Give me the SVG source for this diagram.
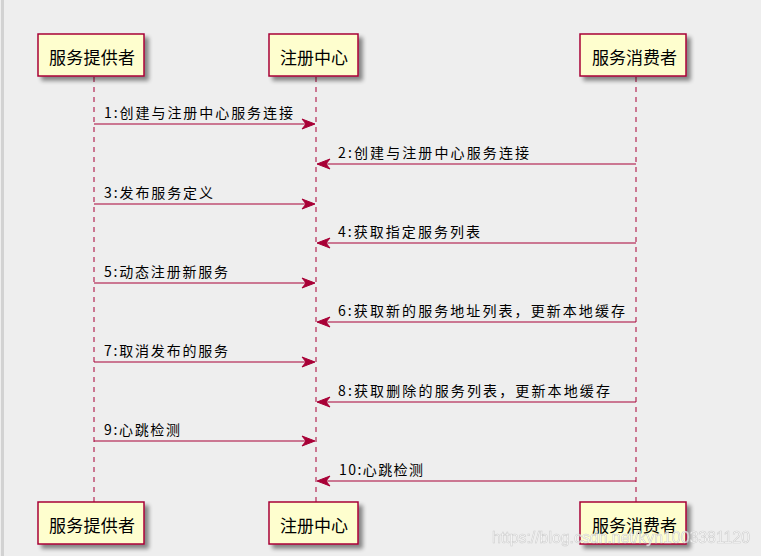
<svg xmlns="http://www.w3.org/2000/svg" width="761" height="556" viewBox="0 0 761 556">
<style>
.bg{fill:#EEEEEE}
.box{fill:#FEFECE;stroke:#A80036;stroke-width:1.5}
.life{stroke:#A80036;stroke-width:1;stroke-dasharray:5,5;fill:none}
.msg{stroke:#A80036;stroke-width:1;fill:none}
.head{fill:#A80036;stroke:#A80036;stroke-width:1}
.pt{font-family:"Noto Sans CJK SC","Noto Sans",sans-serif;font-size:17px;fill:#000}
.ml{font-family:"Noto Sans CJK SC","Noto Sans",sans-serif;font-size:14px;fill:#000}
.wm{font-family:"Liberation Sans",Arial,sans-serif;font-size:16px;fill:#FFFFFF;stroke:#C8C8C8;stroke-width:0.6;opacity:0.85}
</style>
<defs>
<filter id="sh" x="-20%" y="-20%" width="150%" height="160%">
<feGaussianBlur in="SourceAlpha" stdDeviation="2"/>
<feOffset dx="4" dy="4" result="b"/>
<feComponentTransfer><feFuncA type="linear" slope="0.45"/></feComponentTransfer>
<feMerge><feMergeNode/><feMergeNode in="SourceGraphic"/></feMerge>
</filter>
</defs>
<rect class="bg" x="0" y="0" width="761" height="556"/>
<rect x="1" y="0" width="3" height="556" fill="#D2D2D2"/>

<g id="lifelines">
<line class="life" x1="94" y1="77" x2="94" y2="502"/>
<line class="life" x1="316" y1="77" x2="316" y2="502"/>
<line class="life" x1="636" y1="77" x2="636" y2="502"/>
</g>

<g id="p1-top"><rect class="box" filter="url(#sh)" x="38" y="34" width="106" height="42"/><text class="pt" x="49" y="64" textLength="86" lengthAdjust="spacing">服务提供者</text></g>
<g id="p2-top"><rect class="box" filter="url(#sh)" x="269" y="34" width="89" height="42"/><text class="pt" x="280" y="64" textLength="68" lengthAdjust="spacing">注册中心</text></g>
<g id="p3-top"><rect class="box" filter="url(#sh)" x="580" y="34" width="106" height="42"/><text class="pt" x="592" y="64" textLength="85" lengthAdjust="spacing">服务消费者</text></g>

<g id="p1-bottom"><rect class="box" filter="url(#sh)" x="38" y="502" width="106" height="42"/><text class="pt" x="49" y="532" textLength="86" lengthAdjust="spacing">服务提供者</text></g>
<g id="p2-bottom"><rect class="box" filter="url(#sh)" x="269" y="502" width="89" height="42"/><text class="pt" x="280" y="532" textLength="68" lengthAdjust="spacing">注册中心</text></g>
<g id="p3-bottom"><rect class="box" filter="url(#sh)" x="580" y="502" width="106" height="42"/><text class="pt" x="592" y="532" textLength="85" lengthAdjust="spacing">服务消费者</text></g>

<g id="connectors">
<line class="msg" x1="94" y1="124" x2="314" y2="124"/><polygon class="head" points="315,124 302,119 306,124 302,129"/>
<line class="msg" x1="636" y1="164" x2="318" y2="164"/><polygon class="head" points="317,164 330,159 326,164 330,169"/>
<line class="msg" x1="94" y1="204" x2="314" y2="204"/><polygon class="head" points="315,204 302,199 306,204 302,209"/>
<line class="msg" x1="636" y1="243" x2="318" y2="243"/><polygon class="head" points="317,243 330,238 326,243 330,248"/>
<line class="msg" x1="94" y1="283" x2="314" y2="283"/><polygon class="head" points="315,283 302,278 306,283 302,288"/>
<line class="msg" x1="636" y1="322" x2="318" y2="322"/><polygon class="head" points="317,322 330,317 326,322 330,327"/>
<line class="msg" x1="94" y1="362" x2="314" y2="362"/><polygon class="head" points="315,362 302,357 306,362 302,367"/>
<line class="msg" x1="636" y1="402" x2="318" y2="402"/><polygon class="head" points="317,402 330,397 326,402 330,407"/>
<line class="msg" x1="94" y1="441" x2="314" y2="441"/><polygon class="head" points="315,441 302,436 306,441 302,446"/>
<line class="msg" x1="636" y1="481" x2="318" y2="481"/><polygon class="head" points="317,481 330,476 326,481 330,486"/>
</g>

<g id="labels">
<text class="ml" x="104" y="118" textLength="189" lengthAdjust="spacing">1:创建与注册中心服务连接</text>
<text class="ml" x="338" y="158" textLength="191" lengthAdjust="spacing">2:创建与注册中心服务连接</text>
<text class="ml" x="104" y="198" textLength="109" lengthAdjust="spacing">3:发布服务定义</text>
<text class="ml" x="338" y="237" textLength="142" lengthAdjust="spacing">4:获取指定服务列表</text>
<text class="ml" x="104" y="277" textLength="124" lengthAdjust="spacing">5:动态注册新服务</text>
<text class="ml" x="338" y="316" textLength="287" lengthAdjust="spacing">6:获取新的服务地址列表，更新本地缓存</text>
<text class="ml" x="104" y="356" textLength="124" lengthAdjust="spacing">7:取消发布的服务</text>
<text class="ml" x="338" y="396" textLength="272" lengthAdjust="spacing">8:获取删除的服务列表，更新本地缓存</text>
<text class="ml" x="104" y="435" textLength="76" lengthAdjust="spacing">9:心跳检测</text>
<text class="ml" x="339" y="475" textLength="84" lengthAdjust="spacing">10:心跳检测</text>
</g>

<text class="wm" x="492" y="543" textLength="258" lengthAdjust="spacingAndGlyphs">https://blog.csdn.net/kyn1003381120</text>
</svg>
